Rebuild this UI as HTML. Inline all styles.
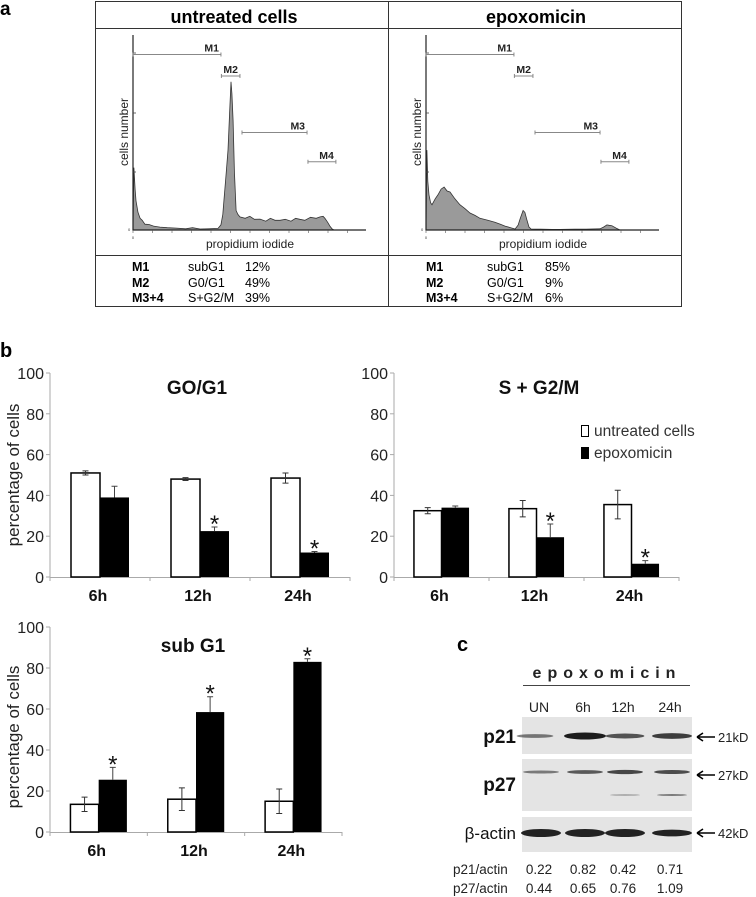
<!DOCTYPE html>
<html><head><meta charset="utf-8"><style>
body{margin:0;background:#fff;}
svg{display:block;font-family:"Liberation Sans",sans-serif;}
</style></head><body>
<svg id="fig" width="756" height="897" viewBox="0 0 756 897" xmlns="http://www.w3.org/2000/svg">
<!-- Panel a -->
<text x="0" y="15" font-size="19" font-weight="bold">a</text>
<g fill="none" stroke="#333" stroke-width="1">
<rect x="95.5" y="1.5" width="586" height="305"/>
<line x1="95" y1="28.5" x2="682" y2="28.5"/>
<line x1="95" y1="255.5" x2="682" y2="255.5"/>
<line x1="388.5" y1="1" x2="388.5" y2="307"/>
</g>
<text x="234" y="23" font-size="18" font-weight="bold" text-anchor="middle">untreated cells</text>
<text x="536" y="23" font-size="18" font-weight="bold" text-anchor="middle">epoxomicin</text>
<g id="hists"></g>
<g font-size="12.5">
<text x="132" y="271" font-weight="bold">M1</text><text x="188" y="271">subG1</text><text x="245" y="271">12%</text>
<text x="132" y="287" font-weight="bold">M2</text><text x="188" y="287">G0/G1</text><text x="245" y="287">49%</text>
<text x="132" y="302" font-weight="bold">M3+4</text><text x="188" y="302">S+G2/M</text><text x="245" y="302">39%</text>
<text x="426" y="271" font-weight="bold">M1</text><text x="487" y="271">subG1</text><text x="545" y="271">85%</text>
<text x="426" y="287" font-weight="bold">M2</text><text x="487" y="287">G0/G1</text><text x="545" y="287">9%</text>
<text x="426" y="302" font-weight="bold">M3+4</text><text x="487" y="302">S+G2/M</text><text x="545" y="302">6%</text>
</g>
<!-- Panel b -->
<text x="0" y="357" font-size="20" font-weight="bold">b</text>
<g id="bars"></g>
<g font-size="15.5" fill="#333">
<rect x="581.5" y="425.5" width="7" height="11" fill="#fff" stroke="#000"/>
<text x="594" y="436">untreated cells</text>
<rect x="581" y="447" width="8" height="12" fill="#000"/>
<text x="594" y="458">epoxomicin</text>
</g>
<!-- Panel c -->
<text x="457" y="651" font-size="20" font-weight="bold">c</text>
<text x="607" y="678" font-size="16" font-weight="bold" text-anchor="middle" letter-spacing="6" fill="#222">epoxomicin</text>
<line x1="523" y1="685.5" x2="690" y2="685.5" stroke="#444"/>
<g id="blot"></g>
</svg>
<script>
var NS='http://www.w3.org/2000/svg';
function mk(tag,attrs,parent,txt){var e=document.createElementNS(NS,tag);for(var k in attrs)e.setAttribute(k,attrs[k]);if(txt!==undefined)e.textContent=txt;parent.appendChild(e);return e;}

// ---------- Histogram data (channel 0-1000, relative count 0-1) ----------
var untreatedChannels=[0,4,9,13,22,31,40,52,70,90,118,150,190,230,260,293,330,371,384,392,397,406,415,422,428,432,437,443,450,458,467,490,510,530,555,580,600,620,642,665,690,710,729,750,775,800,817,830,838,850,860,870,878];
var untreatedCounts=[0,0.32,0.21,0.15,0.09,0.06,0.05,0.03,0.028,0.02,0.015,0.012,0.01,0.006,0.012,0.005,0.006,0.008,0.026,0.08,0.15,0.28,0.41,0.6,0.76,0.7,0.56,0.3,0.10,0.08,0.067,0.06,0.07,0.055,0.056,0.045,0.06,0.05,0.05,0.055,0.045,0.06,0.055,0.05,0.065,0.06,0.067,0.07,0.06,0.04,0.02,0.005,0];
var epoxChannels=[0,4,8,13,20,26,40,52,66,79,92,105,126,148,170,192,214,236,270,301,325,345,370,389,402,412,424,432,441,450,459,500,550,585,650,700,760,775,790,800,812,830,847];
var epoxCounts=[0,0.41,0.25,0.18,0.14,0.13,0.16,0.18,0.21,0.22,0.2,0.195,0.16,0.13,0.11,0.087,0.075,0.06,0.05,0.04,0.03,0.02,0.012,0.005,0.025,0.06,0.10,0.09,0.05,0.015,0.005,0.004,0.003,0.003,0.004,0.004,0.006,0.015,0.026,0.024,0.022,0.01,0];
var gateNames=['M1','M2','M3','M4'];
var gateStart=[0,386,476,764];
var gateEnd=[384,467,760,886];
var gateLevel=[0.9,0.79,0.5,0.35];

function drawHist(ox,channels,counts,title,ylabel){
  var g=document.getElementById('hists');
  var x0=ox,x1=ox+229,y0=230,y1=35;
  function sx(c){return x0+c/1000*(x1-x0);}
  function sy(v){return y0-v*(y0-y1);}
  var grp=mk('g',{},g);
  
  
  var d='M'+sx(channels[0])+','+sy(0);
  for(var i=0;i<channels.length;i++){d+=' L'+sx(channels[i]).toFixed(1)+','+sy(counts[i]).toFixed(1);}
  d+=' L'+sx(channels[channels.length-1])+','+sy(0)+' Z';
  var p=mk('path',{d:d,fill:'#9a9a9a',stroke:'#333','stroke-width':'0.8'},grp);
  
  
  var ax=mk('path',{d:'M'+x0+','+y1+' V'+y0+' H'+(x1+4),fill:'none',stroke:'#222','stroke-width':'1.2'},grp);
  
  
  [53,113,172].forEach(function(t){mk('line',{x1:x0,x2:x0+3,y1:t,y2:t,stroke:'#444','stroke-width':'0.8'},grp);});
  for(var k=0;k<12;k++){var tx=x0+k*19.5;mk('line',{x1:tx,x2:tx,y1:y0,y2:y0+3,stroke:'#555','stroke-width':'0.6'},grp);}
  mk('text',{x:x0-5,y:y0+1,'font-size':'4',fill:'#333'},grp,'0');
  mk('text',{x:x0,y:y0+9,'font-size':'4',fill:'#333','text-anchor':'middle'},grp,'0');
  var xl=mk('text',{x:x0+117,y:y0+18,'font-size':'12','text-anchor':'middle',fill:'#222'},grp,'propidium iodide');
  
  
  var yl=mk('text',{x:0,y:0,'font-size':'12','text-anchor':'middle',fill:'#222',transform:'translate('+(x0-5)+',132) rotate(-90)'},grp,'cells number');
  
  
  for(var m=0;m<gateNames.length;m++){
    var gy=sy(gateLevel[m]);
    var gg=mk('g',{stroke:'#888','stroke-width':'1'},grp);
    
    
    mk('line',{x1:sx(gateStart[m]),x2:sx(gateEnd[m]),y1:gy,y2:gy},gg);
    mk('line',{x1:sx(gateStart[m]),x2:sx(gateStart[m]),y1:gy-2,y2:gy+2},gg);
    mk('line',{x1:sx(gateEnd[m]),x2:sx(gateEnd[m]),y1:gy-2,y2:gy+2},gg);
    mk('text',{x:sx(gateEnd[m])-2,y:gy-3,'font-size':'10.5','font-weight':'bold','text-anchor':'end',fill:'#222',stroke:'none'},gg,gateNames[m]);
  }
}
drawHist(133,untreatedChannels,untreatedCounts,'untreated','cells number');
drawHist(426,epoxChannels,epoxCounts,'epoxomicin','cells number');

// ---------- Bar chart data ----------
var categories=['6h','12h','24h'];
var yTicks=[0,20,40,60,80,100];
var g1Untreated=[51,48,48.5];
var g1UntreatedErr=[1,0.7,2.5];
var g1Epox=[39,22.5,12];
var g1EpoxErr=[5.5,2,0.5];
var g1Stars=[false,true,true];
var sg2Untreated=[32.5,33.5,35.5];
var sg2UntreatedErr=[1.5,4,7];
var sg2Epox=[34,19.5,6.5];
var sg2EpoxErr=[0.8,6.5,1.5];
var sg2Stars=[false,true,true];
var subUntreated=[13.5,16,15];
var subUntreatedErr=[3.5,5.5,6];
var subEpox=[25.5,58.5,83];
var subEpoxErr=[6,7.5,1.5];
var subStars=[true,true,true];

function drawBars(cfg){
  var g=mk('g',{},document.getElementById('bars'));
  
  
  var X0=cfg.x0,X1=cfg.x1,Y0=cfg.y0,Y1=cfg.y1;
  function sy(v){return Y0-v/100*(Y0-Y1);}
  var gw=(X1-X0)/categories.length,bw=gw*0.29;
  function gx(i){return X0+gw*(i+0.5);}
  mk('line',{x1:X0,x2:X0,y1:Y1,y2:Y0,stroke:'#aaa','stroke-width':'1'},g);
  var xa=mk('line',{x1:X0,x2:X1,y1:Y0+0.5,y2:Y0+0.5,stroke:'#aaa','stroke-width':'1'},g);
  
  
  yTicks.forEach(function(t){
    mk('line',{x1:X0-4,x2:X0,y1:sy(t),y2:sy(t),stroke:'#aaa'},g);
    var tl=mk('text',{x:X0-6,y:sy(t)+6,'font-size':'16','text-anchor':'end',fill:'#222'},g,String(t));
    
    
  });
  for(var i=0;i<=categories.length;i++){mk('line',{x1:X0+gw*i,x2:X0+gw*i,y1:Y0,y2:Y0+4,stroke:'#aaa'},g);}
  for(var i=0;i<categories.length;i++){
    var cx=gx(i);
    var cl=mk('text',{x:cx-2,y:Y0+24,'font-size':'16','font-weight':'bold','text-anchor':'middle',fill:'#111'},g,categories[i]);
    
    
    var u=cfg.u[i],ue=cfg.ue[i],e=cfg.e[i],ee=cfg.ee[i];
    var b1=mk('rect',{x:cx-bw,y:sy(u),width:bw,height:sy(0)-sy(u),fill:'#fff',stroke:'#000','stroke-width':'1.5'},g);
    
    
    var b2=mk('rect',{x:cx,y:sy(e),width:bw,height:sy(0)-sy(e),fill:'#000'},g);
    
    
    var ux=cx-bw/2;
    mk('path',{d:'M'+ux+','+sy(u+ue)+' V'+sy(u-ue)+' M'+(ux-3)+','+sy(u+ue)+' h6 M'+(ux-3)+','+sy(u-ue)+' h6',stroke:'#333','stroke-width':'1',fill:'none'},g);
    var ex=cx+bw/2;
    mk('path',{d:'M'+ex+','+sy(e)+' V'+sy(e+ee)+' M'+(ex-3)+','+sy(e+ee)+' h6',stroke:'#444','stroke-width':'1',fill:'none'},g);
    if(cfg.stars[i]){
      var st=mk('text',{x:ex,y:sy(e+ee)+5,'font-size':'24','text-anchor':'middle',fill:'#111'},g,'*');
      
      
    }
  }
  var tt=mk('text',{x:cfg.tx,y:cfg.ty,'font-size':'19','font-weight':'bold','text-anchor':'middle',fill:'#111'},g,cfg.title);
  
  
  if(cfg.ylab){
    var yl=mk('text',{x:0,y:0,'font-size':'17','text-anchor':'middle',fill:'#222',transform:'translate('+(X0-31)+','+cfg.ylabY+') rotate(-90)'},g,'percentage of cells');
    
    
  }
}
drawBars({name:'g0-g1',x0:50,x1:350,y0:577,y1:373,u:g1Untreated,ue:g1UntreatedErr,e:g1Epox,ee:g1EpoxErr,stars:g1Stars,title:'GO/G1',tx:197,ty:394,ylab:true,ylabY:475});
drawBars({name:'s-g2m',x0:394,x1:679,y0:577,y1:373,u:sg2Untreated,ue:sg2UntreatedErr,e:sg2Epox,ee:sg2EpoxErr,stars:sg2Stars,title:'S + G2/M',tx:539,ty:394,ylab:false});
drawBars({name:'sub-g1',x0:50,x1:342,y0:832,y1:627,u:subUntreated,ue:subUntreatedErr,e:subEpox,ee:subEpoxErr,stars:subStars,title:'sub G1',tx:193,ty:652,ylab:true,ylabY:737});

// ---------- Western blot ----------
var lanes=['UN','6h','12h','24h'];
var laneX=[539,583,623,670];
var p21Ratio=['0.22','0.82','0.42','0.71'];
var p27Ratio=['0.44','0.65','0.76','1.09'];
var p21Intensity=[0.35,1,0.6,0.75];
var p27Intensity=[0.35,0.6,0.75,0.7];
var p27LowIntensity=[0,0,0.25,0.5];
var actinIntensity=[1,1,1,0.85];
(function(){
  var g=document.getElementById('blot');
  lanes.forEach(function(l,i){
    var t=mk('text',{x:laneX[i],y:712,'font-size':'14','text-anchor':'middle',fill:'#222'},g,l);
    
    
  });
  var panels=[{n:'p21',y:717,h:37,ly:743,kd:'21kD',ky:737},{n:'p27',y:759,h:52,ly:791,kd:'27kD',ky:775},{n:'β-actin',y:817,h:35,ly:839,kd:'42kD',ky:833}];
  panels.forEach(function(p){
    var r=mk('rect',{x:522,y:p.y,width:170,height:p.h,fill:'#e4e4e4'},g);
    
    
    var lb=mk('text',{x:516,y:p.ly,'font-size':p.n==='β-actin'?'17':'19','font-weight':p.n==='β-actin'?'normal':'bold','text-anchor':'end',fill:'#111'},g,p.n);
    
    
    mk('path',{d:'M697,'+p.ky+' h18 M697,'+p.ky+' l6,-4 M697,'+p.ky+' l6,4',stroke:'#000','stroke-width':'1.6',fill:'none'},g);
    var kt=mk('text',{x:718,y:p.ky+5,'font-size':'13',fill:'#222'},g,p.kd);
    
    
  });
  function band(x,y,w,h,a,nm){var e=mk('ellipse',{cx:x,cy:y,rx:w/2,ry:h/2,fill:'#111','fill-opacity':a},g);}
  for(var i=0;i<4;i++){
    band(laneX[i]+(i==0?-4:2),736,34+p21Intensity[i]*8,2+p21Intensity[i]*5,0.3+p21Intensity[i]*0.65,'p21-band');
    band(laneX[i]+2,772,36,2+p27Intensity[i]*3,0.3+p27Intensity[i]*0.6,'p27-band');
    if(p27LowIntensity[i]>0)band(laneX[i]+2,795,30,2,p27LowIntensity[i],'p27-lower-band');
    band(laneX[i]+2,833,40,8*actinIntensity[i],0.92,'actin-band');
  }
  var r1=mk('text',{x:453,y:874,'font-size':'13.5',fill:'#222'},g,'p21/actin');
  
  
  var r2=mk('text',{x:453,y:893,'font-size':'13.5',fill:'#222'},g,'p27/actin');
  
  
  for(var i=0;i<4;i++){
    var a=mk('text',{x:laneX[i],y:874,'font-size':'13.5','text-anchor':'middle',fill:'#222'},g,p21Ratio[i]);
    
    
    var b=mk('text',{x:laneX[i],y:893,'font-size':'13.5','text-anchor':'middle',fill:'#222'},g,p27Ratio[i]);
    
    
  }
})();
</script>
</body></html>
